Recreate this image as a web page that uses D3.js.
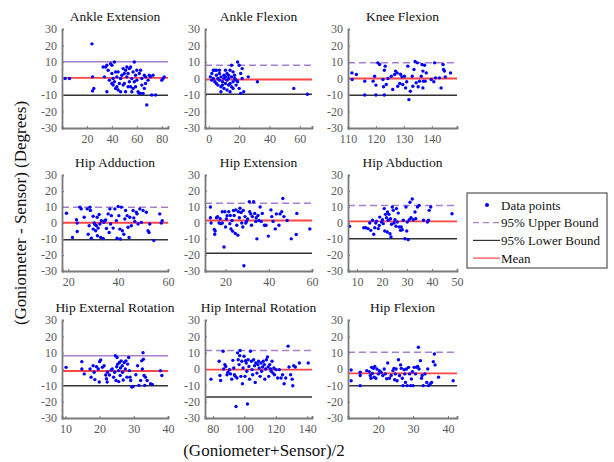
<!DOCTYPE html>
<html>
<head>
<meta charset="utf-8">
<script src="https://cdn.jsdelivr.net/npm/d3@7"></script>
<style>
  body { margin: 0; background: #fff; }
  text { font-family: "Liberation Serif", "Times New Roman", serif; }
</style>
</head>
<body>
<svg id="chart" width="614" height="462"></svg>
<script>
// ---------- data ----------
const titles = ["Ankle Extension", "Ankle Flexion", "Knee Flexion",
  "Hip Adduction", "Hip Extension", "Hip Abduction",
  "Hip External Rotation", "Hip Internal Rotation", "Hip Flexion"];

const xLimits = [[0, 85], [-2.5, 68], [110, 149], [17.5, 60], [10.5, 60], [6.4, 50], [9, 40], [75, 143], [11.3, 42.6]];
const xTicks = [[20, 40, 60, 80], [0, 20, 40, 60], [110, 120, 130, 140], [20, 40, 60], [20, 40, 60],
  [10, 20, 30, 40, 50], [10, 20, 30, 40], [80, 100, 120, 140], [20, 30, 40]];
const yTicks = [-30, -20, -10, 0, 10, 20, 30];

const upperBound = [10.1, 8.1, 9.5, 9.9, 12.3, 11, 8.1, 11.3, 10.2];
const lowerBound = [-10.1, -9.5, -10.1, -10.5, -18.9, -9.8, -10.2, -17.2, -10.2];
const meanDiff = [0.4, -0.6, 0, 0.2, 1.6, 1, -1.2, -0.4, -2.7];
const upperSolid = [true, false, false, false, false, false, true, false, false];

const ankleExtension = [[2.5,0],[6,0],[24,21],[24.5,1],[25.5,-6],[24.5,-7.5],[33,7],[34,1],[35,7],[36,8],[36,-8],[37,5],[38,-1],[39,9],[40,8],[40,3],[40,-3],[41,0],[41,-4],[42,10],[42,-2],[43,4],[43,-6],[44,-5],[44,1],[45,4],[45,-7],[46,-3],[47,-8],[47,0],[48,2],[49,-4],[49,6],[50,-3],[50,3],[51,-8],[51,5],[52,1],[52,7],[53,-5],[53,3],[54,6],[54,-2],[55,7],[55,-5],[56,0],[56,-8],[57,4],[57,-6],[58,10],[58,-2],[59,2],[59,-5],[60,-1],[60,5],[61,-8],[62,-9],[62,3],[63,-9],[63,5],[64,0],[64,-4],[65,-9],[66,2],[66,-6],[67,-3],[67,1],[68,-16],[69,-1],[70,2],[71,1],[72,-10],[73,2],[75,-10],[80,-1],[81,0],[82,1]];

const ankleFlexion = [[1,1],[2,3],[2,-1],[3,5],[3,0],[4,5],[4,-2],[5,2],[5,5],[5,-3],[6,0],[6,-4],[7,3],[7,-1],[7,5],[8,-5],[8,-8],[8,1],[9,-2],[9,-4],[10,2],[10,-6],[10,0],[11,-3],[11,1],[11,5],[12,-1],[12,-7],[12,3],[13,-4],[13,0],[13,2],[14,5],[14,-3],[14,-8],[15,1],[15,-5],[15,8],[16,-2],[16,4],[16,-6],[17,0],[17,2],[18,-4],[18,-1],[19,10],[19,-2],[20,8],[20,-6],[21,-9],[21,3],[22,6],[22,0],[23,-8],[26,1],[32,-2],[56,-6],[65,-9.5]];

const kneeFlexion = [[111.4,3.4],[111.5,-0.6],[113,2.4],[116,-1.6],[116,-10],[119,-1.6],[119.5,1.4],[120,-4],[120,-10],[120.7,9.5],[121.3,8.5],[122.5,-0.6],[122.7,-5],[123,5],[123.3,7.5],[123,-10],[123.7,-3.6],[124.3,0],[125.5,1.4],[126,-6.7],[126.7,2.4],[127,4.5],[127.6,3.4],[127.8,-4.7],[128.5,-3],[128.8,2.6],[129.3,1],[129.6,-3.6],[130.2,1.4],[130.6,-5.7],[131,-2],[131.4,7.5],[131.8,-12.8],[132.3,-7.7],[133,1.4],[133.2,-4.7],[133.6,5.5],[134,10.3],[134.4,-2.6],[134.8,9.5],[135.1,-5],[135.6,-1.6],[136.2,1.4],[136.5,8.5],[136.8,4.5],[136.8,-5.7],[137,-1.6],[137.4,8],[137.6,-1.6],[138,3.4],[139.8,-0.6],[140.7,-2],[141,9.5],[141.3,0.4],[142.7,0.4],[143.3,-5.7],[144,8.5],[144.2,5.5],[144.5,4.5],[144.8,1],[146.7,3.4]];

const hipAdduction = [[19.3,6.1],[21.7,-9],[23.3,2.1],[23.6,0],[23.6,-5.3],[24.7,9.9],[25.2,8.8],[26.4,3.6],[27.6,8.8],[28,-7],[28.4,-1.7],[28.7,9.9],[28.9,7.8],[29.3,-9.5],[30,4.2],[30,-3.8],[30.4,0],[30.7,-1],[31,-4.8],[31.3,-1.7],[31.6,3.6],[31.7,-8],[32,-3.2],[32.4,5.3],[32.7,-0.6],[33,-9],[33.3,1.5],[34,-9.7],[34.3,0.4],[34.7,1.5],[35,1.9],[35.3,-3.4],[36,5.7],[36.4,-5.9],[36.7,8.8],[37,-0.6],[37.3,4.6],[38,-3.2],[38.7,8.8],[39.3,1.5],[39.6,-9.5],[40,10.3],[40.3,4.6],[40.7,-3.8],[40.9,-10],[41.3,9.9],[41.7,-4.8],[42.3,-7],[42.7,2.5],[43,7.8],[43.6,4.6],[44,-2.7],[44.4,-9],[44.7,3.6],[45.3,-1.7],[46,7.8],[46.3,3.2],[46.7,1],[47.3,6.7],[47.6,5.7],[48,-0.6],[48.7,8.8],[49.3,0.4],[50,7.8],[51.3,6.7],[52,-4.8],[52.4,-5.9],[52.7,-0.6],[54.3,-11],[56.7,5.7],[57.3,0],[57.7,1.5]];

const hipExtension = [[13,10],[13,3.3],[13.3,0],[14.8,-4],[15,-7],[15.2,-5],[15.8,3.3],[16.3,4],[17,0],[17.5,2.7],[17.8,-0.4],[18.5,7],[18.5,0],[19.3,-15],[19.7,7],[20,-2.5],[20.4,2.5],[20.7,4.5],[21.5,7],[22,-0.4],[22.2,4.7],[22.5,-3.7],[23,1.6],[23.3,-5.1],[23.7,7.8],[24,4.7],[24.5,-6.5],[24.8,8.2],[25.2,-1.4],[25.7,-7.6],[26,7],[26.4,3.3],[26.7,9.2],[27.2,6.6],[27.5,0],[28,-2.5],[28.2,7.8],[28.5,-26.7],[29,4],[29.4,0],[29.7,1],[30.2,2.5],[31,13.3],[31.2,7],[31.7,5.7],[32,-1.4],[32.4,4],[33,13.3],[33.5,6],[34,1],[34.2,3.3],[34.5,-9.9],[35,4.7],[35.4,1.6],[36,10],[36.5,1],[37,6],[38,-1.4],[38.7,-1.4],[39.8,-8.2],[41,8.2],[41.4,4],[42,1],[43,-3.7],[43.5,5.7],[44.7,-1.4],[45.2,5.7],[46,7],[46.5,15.3],[47,4],[48.5,1.6],[50.4,-9.9],[52.7,-7.2],[53,6],[59,-3.7]];

const hipAbduction = [[7,-2],[12.7,-3],[13.5,-3],[14.4,-3.5],[15.1,0],[15.5,-4.6],[16.2,1.7],[16.7,-7],[17.1,-3],[17.5,0],[17.8,1.2],[18.5,-3.5],[18.9,-1.5],[19.1,3.7],[19.8,0.6],[20.2,2],[20.5,-0.4],[20.9,9],[21.1,-5],[21.4,5.4],[21.8,3.3],[22.1,-5.6],[22.2,6.9],[22.5,1.7],[22.8,5.4],[23.2,-6.7],[23.4,2.7],[23.6,-8.7],[23.8,-0.8],[24.1,10],[24.5,7.9],[24.8,0],[25.2,2],[25.6,-2],[25.8,9],[26.1,0.6],[26.5,6.2],[26.9,-2.5],[27.4,-4.6],[27.7,-2.5],[28.1,-4.2],[28.5,1.7],[29.2,-9.8],[29.6,10],[29.9,-5],[30.1,0.6],[30.5,-10.4],[30.9,2],[31.2,13],[31.6,3.3],[32.1,15],[32.5,2],[33.2,6.9],[33.5,2.7],[34.2,10],[34.8,11],[36.6,1.7],[38.2,0.6],[38.6,1.7],[38.9,7.9],[39.5,10],[48,5.8]];

const hipExternalRotation = [[10.2,1],[14.8,4.5],[14.8,0],[15.5,-3],[17.2,0],[17.5,-5],[18.1,2],[18.4,-2],[18.6,-6.5],[19.1,1.4],[19.6,0],[19.9,-8],[20,4.5],[20.3,5.5],[20.8,1],[21.3,2],[21.8,-3.7],[22,-6],[22.2,-8],[22.3,-2],[22.9,-3.7],[23.4,-0.6],[23.7,0],[24.1,-5],[24.4,-2],[24.6,8.1],[24.8,-7],[25,1.4],[25.1,7],[25.3,3],[25.5,-1],[25.6,-7.7],[25.8,4],[26,-4],[26.1,0.6],[26.3,5],[26.6,2],[26.7,-2],[26.9,-6.7],[27.2,4],[27.5,0],[27.7,5],[28,-5],[28.2,3],[28.5,7],[28.7,-1],[28.9,-5],[29.1,-7],[29.4,-11],[29.8,-10.7],[30.6,-3.5],[31.1,2],[31.5,-10],[32,-7],[32.3,5],[32.5,0],[32.7,10],[32.8,6],[33,-4],[33.2,-10],[33.4,-5],[33.9,-7],[34.9,-9],[35.4,-9.5],[37.8,-1],[38.2,-4]];

const hipInternalRotation = [[78.8,-6.2],[84,4.7],[84.5,-4],[84.9,-7],[86.5,10.9],[86.9,0],[87.6,2.7],[88.2,1.6],[89,-3.5],[89.6,-2],[90.6,-0.4],[91.2,-3],[92,-6.2],[92.7,5.3],[93.3,0.6],[93.7,-3.5],[94.3,-4.5],[94.7,-23],[95.3,-5.5],[95.7,9.9],[96.1,5.7],[96.7,2.7],[97.1,8.2],[97.3,11.3],[97.8,-4.5],[98.4,4.7],[98.8,-9],[99.2,0.6],[99.8,7.8],[100.4,-4.5],[100.8,5.1],[101.2,3.7],[101.6,-1.4],[102,-21.4],[102.4,5.7],[102.9,1.6],[103.3,-6.2],[103.9,10.9],[104.5,4.7],[104.9,-0.4],[105.3,-3.5],[105.9,5.7],[106.5,2],[106.9,-8.2],[107.3,3.7],[108,-2.5],[108.6,2.7],[109,4.7],[109.4,0.6],[110,-4.5],[110.6,3.7],[111,-1.4],[111.6,1.2],[112,4.7],[112.7,2.7],[113,-6.2],[113.5,0],[114,5.7],[114.7,7.4],[115.1,1.2],[115.5,-4.5],[116.1,2.7],[116.7,0],[117.1,-1.4],[117.6,4.7],[118.2,-2.5],[118.8,0.6],[119.2,-3.5],[120.2,-0.4],[121.2,-5.5],[122.2,-0.4],[123.3,-5.5],[124.3,-3.5],[125.3,-9],[126.3,-5.5],[127.8,14],[128.4,1.2],[129.4,-3.5],[130.4,-6.2],[130.8,-10.3],[131.4,2],[132.4,1.2],[135,3.7],[140.6,3.7]];

const hipFlexion = [[12.2,-0.6],[12.2,-7.2],[14.8,-2],[14.8,-4],[14.8,-10.2],[16.7,-1],[17.4,-1.6],[17.7,-4],[17.9,-5.7],[18.1,1],[18.3,-2.7],[18.6,0.4],[18.8,-5],[19,1.6],[19.3,-5.7],[19.6,0],[20,-3],[20.3,-1],[20.8,-2],[21.3,-4],[21.7,0],[22,-3],[22.4,-6],[22.7,3.7],[23.2,-5.7],[23.7,-4],[24.2,-1],[24.5,0.4],[24.7,-6.6],[24.9,-3],[25.1,0],[25.4,-7.2],[25.8,5.7],[26.1,-4],[26.4,2.5],[26.6,0.4],[26.9,-5.7],[27.1,-10.2],[27.4,-0.4],[27.6,-3],[27.8,-8.2],[28.1,0],[28.3,-10.2],[28.7,1],[29,-3],[29.3,-10.2],[29.5,-6.1],[29.8,-1.6],[30,-10.2],[30.3,1],[30.7,-3],[31,1],[31.3,1.6],[31.5,13.3],[31.7,0],[32.1,5.1],[32.4,-5.7],[32.6,-4],[32.9,-10.2],[33.4,-3],[33.9,-8.2],[34.2,0],[34.4,-10.2],[34.9,-9.2],[35.3,-8.2],[35.8,4.5],[36.1,9.2],[36.3,2.5],[37.3,-5],[41.5,-7.2]];

const panelPoints = [ankleExtension, ankleFlexion, kneeFlexion, hipAdduction, hipExtension,
  hipAbduction, hipExternalRotation, hipInternalRotation, hipFlexion];

const legendLabels = ["Data points", "95% Upper Bound", "95% Lower Bound", "Mean"];

// ---------- layout ----------
const colX = [[62, 168], [205, 312], [348, 457]];
const rowY = [[29, 128], [175, 271], [320, 418]];
const axisColor = "#7a7a7a";
const upperColor = "#a77fd0";
const meanColor = "#ff4545";

const svg = d3.select("#chart");

titles.forEach((title, i) => {
  const col = i % 3, row = Math.floor(i / 3);
  const x = d3.scaleLinear().domain(xLimits[i]).range(colX[col]);
  const y = d3.scaleLinear().domain([-30, 30]).range([rowY[row][1], rowY[row][0]]);
  const g = svg.append("g");

  // reference lines
  const hline = (v, color, dash, w) => g.append("line")
    .attr("x1", x.range()[0]).attr("x2", x.range()[1])
    .attr("y1", y(v)).attr("y2", y(v))
    .attr("stroke", color).attr("stroke-width", w)
    .attr("stroke-dasharray", dash);
  hline(upperBound[i], upperColor, upperSolid[i] ? null : "7,4", 1.5);
  hline(lowerBound[i], "#333", null, 1.5);
  hline(meanDiff[i], meanColor, null, 1.9);

  // points
  g.selectAll("circle").data(panelPoints[i]).enter().append("circle")
    .attr("cx", d => x(d[0]))
    .attr("cy", d => y(d[1]))
    .attr("r", 1.7)
    .attr("fill", "#0000ff");

  // axes
  const yAxis = g.append("g")
    .attr("transform", `translate(${x.range()[0]},0)`)
    .call(d3.axisLeft(y).tickValues(yTicks).tickSize(-2).tickPadding(5));
  const xAxis = g.append("g")
    .attr("transform", `translate(0,${y.range()[0]})`)
    .call(d3.axisBottom(x).tickValues(xTicks[i]).tickSize(-2).tickPadding(6).tickFormat(d3.format("d")));
  [xAxis, yAxis].forEach(a => {
    a.select(".domain").attr("stroke", axisColor).attr("stroke-width", 1.8);
    a.selectAll(".tick line").attr("stroke", axisColor);
    a.selectAll(".tick text")
      .attr("fill", "#5a5a5a")
      .attr("font-size", 12)
      .attr("font-family", "Liberation Serif, serif");
  });
  yAxis.selectAll(".tick text").text(d => d < 0 ? "-" + Math.abs(d) : d);

  g.append("text")
    .attr("x", (colX[col][0] + colX[col][1]) / 2)
    .attr("y", rowY[row][0] - 8)
    .attr("text-anchor", "middle")
    .attr("font-size", 13.5)
    .attr("fill", "#111")
    .text(title);
});

// axis labels
svg.append("text")
  .attr("transform", "translate(26,213) rotate(-90)")
  .attr("text-anchor", "middle")
  .attr("font-size", 17)
  .attr("fill", "#111")
  .text("(Goniometer - Sensor) (Degrees)");

svg.append("text")
  .attr("x", 264).attr("y", 456)
  .attr("text-anchor", "middle")
  .attr("font-size", 17)
  .attr("fill", "#111")
  .text("(Goniometer+Sensor)/2");

// legend
const legend = svg.append("g").attr("transform", "translate(467,193)");
legend.append("rect")
  .attr("width", 140).attr("height", 75)
  .attr("fill", "#fff").attr("stroke", "#555").attr("stroke-width", 1.2);

const items = legend.selectAll("g.item").data(legendLabels).enter().append("g")
  .attr("class", "item")
  .attr("transform", (d, i) => `translate(0,${12 + i * 17.7})`);

items.each(function (d, i) {
  const it = d3.select(this);
  if (i === 0) {
    it.append("circle").attr("cx", 20).attr("cy", 0).attr("r", 2).attr("fill", "#0000ff");
  } else {
    const styles = [null, [upperColor, "6,4"], ["#333", null], [meanColor, null]];
    it.append("line").attr("x1", 6).attr("x2", 33).attr("y1", 0).attr("y2", 0)
      .attr("stroke", styles[i][0]).attr("stroke-width", 1.2)
      .attr("stroke-dasharray", styles[i][1]);
  }
  it.append("text").attr("x", 34).attr("y", 4.5)
    .attr("font-size", 13).attr("fill", "#111").text(d);
});
</script>
</body>
</html>
